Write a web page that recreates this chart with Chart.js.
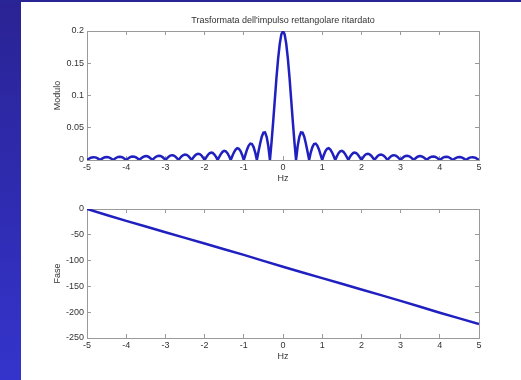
<!DOCTYPE html>
<html><head><meta charset="utf-8">
<script src="https://cdn.jsdelivr.net/npm/chart.js@4"></script>
<style>
html,body{margin:0;padding:0;background:#fff;width:521px;height:380px;overflow:hidden;}
#side{position:absolute;left:0;top:0;width:21px;height:380px;background:linear-gradient(#2a2394,#3434cc);}
#topbar{position:absolute;left:0;top:0;width:521px;height:2px;background:#2a2594;}
canvas{position:absolute;left:0;top:0;}
</style></head><body>
<div id="side"></div><div id="topbar"></div>
<canvas id="c1" width="521" height="380"></canvas>
<canvas id="c2" width="521" height="380"></canvas>
<script>
const titleText = "Trasformata dell'impulso rettangolare ritardato";
const xLabel = "Hz";
const yLabelTop = "Modulo";
const yLabelBottom = "Fase";

const freqMod = [
 -5,-4.958,-4.917,-4.875,-4.833,-4.792,-4.75,-4.708,-4.667,-4.625,-4.583,-4.542,-4.5,-4.458,-4.417,-4.375,-4.333,-4.292,-4.25,-4.208,-4.167,-4.125,-4.083,-4.042,
 -4,-3.958,-3.917,-3.875,-3.833,-3.792,-3.75,-3.708,-3.667,-3.625,-3.583,-3.542,-3.5,-3.458,-3.417,-3.375,-3.333,-3.292,-3.25,-3.208,-3.167,-3.125,-3.083,-3.042,
 -3,-2.958,-2.917,-2.875,-2.833,-2.792,-2.75,-2.708,-2.667,-2.625,-2.583,-2.542,-2.5,-2.458,-2.417,-2.375,-2.333,-2.292,-2.25,-2.208,-2.167,-2.125,-2.083,-2.042,
 -2,-1.958,-1.917,-1.875,-1.833,-1.792,-1.75,-1.708,-1.667,-1.625,-1.583,-1.542,-1.5,-1.458,-1.417,-1.375,-1.333,-1.292,-1.25,-1.208,-1.167,-1.125,-1.083,-1.042,
 -1,-0.958,-0.917,-0.875,-0.833,-0.792,-0.75,-0.708,-0.667,-0.625,-0.583,-0.542,-0.5,-0.458,-0.417,-0.375,-0.333,-0.292,-0.25,-0.208,-0.167,-0.125,-0.083,-0.042,
 0,
 0.042,0.083,0.125,0.167,0.208,0.25,0.292,0.333,0.375,0.417,0.458,0.5,0.542,0.583,0.625,0.667,0.708,0.75,0.792,0.833,0.875,0.917,0.958,1,
 1.042,1.083,1.125,1.167,1.208,1.25,1.292,1.333,1.375,1.417,1.458,1.5,1.542,1.583,1.625,1.667,1.708,1.75,1.792,1.833,1.875,1.917,1.958,2,
 2.042,2.083,2.125,2.167,2.208,2.25,2.292,2.333,2.375,2.417,2.458,2.5,2.542,2.583,2.625,2.667,2.708,2.75,2.792,2.833,2.875,2.917,2.958,3,
 3.042,3.083,3.125,3.167,3.208,3.25,3.292,3.333,3.375,3.417,3.458,3.5,3.542,3.583,3.625,3.667,3.708,3.75,3.792,3.833,3.875,3.917,3.958,4,
 4.042,4.083,4.125,4.167,4.208,4.25,4.292,4.333,4.375,4.417,4.458,4.5,4.542,4.583,4.625,4.667,4.708,4.75,4.792,4.833,4.875,4.917,4.958,5
];

const modulo = [
 0,0.0016,0.0031,0.0040,0.0044,0.0041,0.0032,0.0017,0,0.0018,0.0033,0.0043,0.0047,0.0044,0.0034,0.0019,0,0.0019,0.0035,0.0047,0.0051,0.0048,0.0037,0.0020,
 0,0.0021,0.0038,0.0051,0.0055,0.0052,0.0040,0.0022,0,0.0022,0.0042,0.0055,0.0061,0.0057,0.0044,0.0024,0,0.0025,0.0046,0.0061,0.0067,0.0063,0.0049,0.0027,
 0,0.0027,0.0051,0.0068,0.0075,0.0070,0.0055,0.0030,0,0.0031,0.0058,0.0077,0.0085,0.0080,0.0062,0.0034,0,0.0035,0.0067,0.0089,0.0098,0.0092,0.0072,0.0040,
 0,0.0041,0.0078,0.0105,0.0116,0.0109,0.0086,0.0048,0,0.0050,0.0095,0.0127,0.0141,0.0134,0.0106,0.0059,0,0.0063,0.0120,0.0162,0.0182,0.0174,0.0139,0.0078,
 0,0.0085,0.0164,0.0224,0.0255,0.0248,0.0200,0.0115,0,0.0130,0.0257,0.0362,0.0424,0.0428,0.0360,0.0217,0,0.0278,0.0600,0.0941,0.1273,0.1568,0.1801,0.1949,
 0.2,
 0.1949,0.1801,0.1568,0.1273,0.0941,0.0600,0.0278,0,0.0217,0.0360,0.0428,0.0424,0.0362,0.0257,0.0130,0,0.0115,0.0200,0.0248,0.0255,0.0224,0.0164,0.0085,0,
 0.0078,0.0139,0.0174,0.0182,0.0162,0.0120,0.0063,0,0.0059,0.0106,0.0134,0.0141,0.0127,0.0095,0.0050,0,0.0048,0.0086,0.0109,0.0116,0.0105,0.0078,0.0041,0,
 0.0040,0.0072,0.0092,0.0098,0.0089,0.0067,0.0035,0,0.0034,0.0062,0.0080,0.0085,0.0077,0.0058,0.0031,0,0.0030,0.0055,0.0070,0.0075,0.0068,0.0051,0.0027,0,
 0.0027,0.0049,0.0063,0.0067,0.0061,0.0046,0.0025,0,0.0024,0.0044,0.0057,0.0061,0.0055,0.0042,0.0022,0,0.0022,0.0040,0.0052,0.0055,0.0051,0.0038,0.0021,0,
 0.0020,0.0037,0.0048,0.0051,0.0047,0.0035,0.0019,0,0.0019,0.0034,0.0044,0.0047,0.0043,0.0033,0.0018,0,0.0017,0.0032,0.0041,0.0044,0.0040,0.0031,0.0016,0
];

const freqPhase = [-5,-4.5,-4,-3.5,-3,-2.5,-2,-1.5,-1,-0.5,0,0.5,1,1.5,2,2.5,3,3.5,4,4.5,5];
const fase = [0,-11.5,-23,-34,-45,-56,-67,-78,-89,-100.5,-112,-123,-134,-145,-156,-167,-178,-189.5,-201,-212,-223];

const FONT = {family: "'Liberation Sans', Arial, Helvetica, sans-serif", size: 9, weight: 'normal'};
const TXT = '#333';
const AX = '#9a9a9a';
const LINE = '#2020c0';

const fmt = v => String(Math.round(v * 1000) / 1000);

function xAxes(){
  return {
    x: {type:'linear', position:'bottom', min:-5, max:5,
      ticks:{stepSize:1, padding:6.6, color:TXT, font:FONT, maxRotation:0, autoSkip:false, callback: fmt},
      grid:{drawOnChartArea:false, tickLength:-4, color:AX},
      border:{display:true, color:AX},
      title:{display:true, text:xLabel, color:TXT, font:FONT, padding:{top:0,bottom:0.6}},
      afterFit: s => { s.height = 25; }},
    x2: {type:'linear', position:'top', min:-5, max:5,
      ticks:{display:false, stepSize:1},
      grid:{drawOnChartArea:false, tickLength:-4, color:AX},
      border:{display:true, color:AX},
      afterFit: s => { s.height = 0; }}
  };
}
function yAxes(min, max, step, label){
  return {
    y: {type:'linear', position:'left', min:min, max:max,
      ticks:{stepSize:step, padding:7, color:TXT, font:FONT, callback: fmt},
      grid:{drawOnChartArea:false, tickLength:-4, color:AX},
      border:{display:true, color:AX},
      title:{display:true, text:label, color:TXT, font:FONT, padding:{top:2.6,bottom:0}},
      afterFit: s => { s.width = 37; }},
    y2: {type:'linear', position:'right', min:min, max:max,
      ticks:{display:false, stepSize:step},
      grid:{drawOnChartArea:false, tickLength:-4, color:AX},
      border:{display:true, color:AX},
      afterFit: s => { s.width = 0; }}
  };
}

new Chart(document.getElementById('c1'), {
  type:'line',
  data:{datasets:[{data: freqMod.map((f,i)=>({x:f, y:modulo[i]})), borderColor:LINE, borderWidth:2.5, pointRadius:0, tension:0, fill:false}]},
  options:{
    responsive:false, animation:false, devicePixelRatio:1,
    layout:{padding:{left:50, right:42, top:15.6, bottom:195}, autoPadding:false},
    plugins:{legend:{display:false}, tooltip:{enabled:false},
      title:{display:true, text:titleText, color:TXT, font:FONT, padding:{top:0,bottom:4.6}, fullSize:false}},
    scales: Object.assign({}, xAxes(), yAxes(0, 0.2, 0.05, yLabelTop))
  }
});

new Chart(document.getElementById('c2'), {
  type:'line',
  data:{datasets:[{data: freqPhase.map((f,i)=>({x:f, y:fase[i]})), borderColor:LINE, borderWidth:2.5, pointRadius:0, tension:0, fill:false}]},
  options:{
    responsive:false, animation:false, devicePixelRatio:1,
    layout:{padding:{left:50, right:42, top:209, bottom:17}, autoPadding:false},
    plugins:{legend:{display:false}, tooltip:{enabled:false}, title:{display:false}},
    scales: Object.assign({}, xAxes(), yAxes(-250, 0, 50, yLabelBottom))
  }
});
</script>
</body></html>
